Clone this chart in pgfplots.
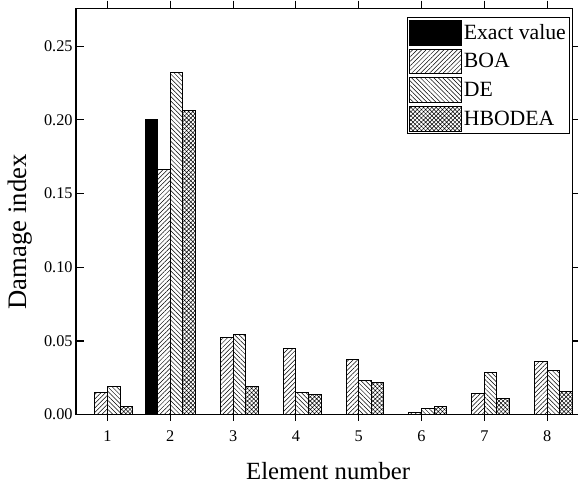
\documentclass[border=0pt]{standalone}
\usepackage{pgfplots}
\pgfplotsset{compat=1.18}
\usepackage{fontspec}
\setmainfont{Liberation Serif}
\usetikzlibrary{patterns.meta}
\begin{document}
\begin{tikzpicture}
\pgfplotsset{
  common/.style={
    scale only axis, width=502pt, height=411pt,
    xmin=0.5, xmax=8.4, ymin=0, ymax=0.2755,
    xtick={1,2,3,4,5,6,7,8}, ytick={0,0.05,0.10,0.15,0.20,0.25},
    axis line style={line width=1.3pt},
    major tick style={line width=1.1pt, black},
    minor tick num=0,
  }
}
\begin{axis}[common,
  tick align=outside, xtick pos=left, ytick pos=right,
  xticklabels={}, yticklabels={}, major tick length=6pt]
\end{axis}
\begin{axis}[common,
  tick align=inside, major tick length=8pt,
  xtick pos=right, ytick pos=left, xticklabel pos=left, yticklabel pos=left,
  /pgf/number format/assume math mode=true,
  ticklabel style={font=\fontsize{16.5}{18}\selectfont},
  yticklabel style={/pgf/number format/fixed, /pgf/number format/fixed zerofill, /pgf/number format/precision=2},
  scaled y ticks=false,
  xticklabel style={yshift=-5pt},
  xlabel={Element number},
  xlabel style={font=\fontsize{25}{28}\selectfont, at={(axis description cs:0.508,-0.1606)}, anchor=base},
  ylabel={Damage index},
  ylabel style={font=\fontsize{27}{30}\selectfont, at={(axis description cs:-0.1135,0.45)}, anchor=center},
  ybar, bar width=0.2,
  legend style={at={(0.996,0.978)}, anchor=north east, draw=black, line width=1pt,
    font=\fontsize{22}{24}\selectfont, inner sep=2pt, row sep=3pt, legend cell align=left},
  legend image code/.code={\draw[#1, line width=1pt] (0pt,-12.5pt) rectangle (52pt,12.5pt);},
]
\addplot[draw=black, fill=black, line width=1pt, bar shift=-0.3]
  coordinates {(2,0.200)};
\addplot[draw=black, line width=1pt, bar shift=-0.1,
  pattern={Lines[angle=45,distance=3.2pt,line width=0.5pt]}]
  coordinates {(1,0.0152) (2,0.166) (3,0.0523) (4,0.0447) (5,0.0373) (6,0.0013) (7,0.0143) (8,0.0362)};
\addplot[draw=black, line width=1pt, bar shift=0.1,
  pattern={Lines[angle=-45,distance=3.2pt,line width=0.5pt]}]
  coordinates {(1,0.0188) (2,0.232) (3,0.0545) (4,0.0150) (5,0.0230) (6,0.0043) (7,0.0288) (8,0.0300)};
\addplot[draw=black, line width=1pt, bar shift=0.3,
  pattern={Hatch[angle=45,distance=3pt,line width=0.5pt]}]
  coordinates {(1,0.0056) (2,0.2064) (3,0.0188) (4,0.0134) (5,0.0217) (6,0.0058) (7,0.0112) (8,0.0159)};
\legend{Exact value, BOA, DE, HBODEA}
\end{axis}
\path ([shift={(-77pt,-71pt)}]current axis.south west) rectangle ([shift={(6pt,6pt)}]current axis.north east);
\end{tikzpicture}
\end{document}
